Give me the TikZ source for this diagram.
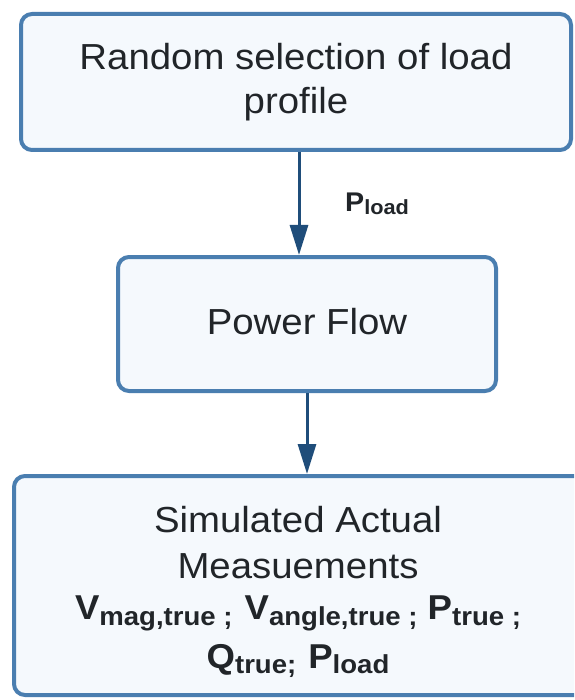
\documentclass[tikz,border=0pt]{standalone}
\usepackage{fontspec}
\setmainfont[FakeStretch=1.06]{Liberation Sans}
\usetikzlibrary{arrows.meta}
\definecolor{bord}{RGB}{74,126,176}
\definecolor{fillc}{RGB}{245,249,253}
\definecolor{arrc}{RGB}{31,77,122}
\definecolor{txt}{RGB}{33,37,41}
\newcommand{\bigtxt}{\fontsize{36.2}{44}\selectfont}
\newcommand{\fsub}[3]{\raisebox{-#2}{\fontsize{#1}{#1}\selectfont #3}}
\begin{document}
\begin{tikzpicture}[x=1pt,y=-1pt,
  box/.style={draw=bord, line width=4pt, fill=fillc, rounded corners=11pt, inner sep=0pt, text=txt, align=center},
  arr/.style={draw=arrc, line width=3pt, -{Triangle[width=18pt,length=30pt]}},
  lbl/.style={text=txt, inner sep=0pt, anchor=base}]
\fill[white] (0,0) rectangle (574,700);
\useasboundingbox (0,0) rectangle (574,700);
\clip (0,0) rectangle (574,700);
\node[box, minimum width=550pt, minimum height=136pt, font=\bigtxt] (sel) at (296,82) {Random selection of load\\profile};
\node[box, minimum width=378pt, minimum height=134pt, font=\bigtxt] (pf) at (307,324) {\raisebox{5pt}{Power Flow}};
\node[box, minimum width=590pt, minimum height=219pt] (meas) at (309,585.5) {};
\node[lbl, font=\bigtxt] (m1) at (298,532) {Simulated Actual};
\node[lbl, font=\bigtxt] (m2) at (298,578) {Measuements};
\node[lbl] (m3) at (298,619) {\bfseries\fontsize{34.5}{34}\selectfont V\fsub{26}{6pt}{mag,true ;}\hspace{12pt}V\fsub{26}{6pt}{angle,true ;} P\fsub{26}{6pt}{true ;}};
\node[lbl] (m4) at (298,668) {\bfseries\fontsize{34.5}{34}\selectfont Q\fsub{26}{5pt}{true;}\hspace{12pt}P\fsub{26}{5pt}{load}};
\coordinate (a1) at ([xshift=3pt]sel.south);
\draw[arr] (a1) -- (a1 |- pf.north);
\draw[arr] (pf.south) -- (pf.south |- meas.north);
\node[lbl, anchor=base west] (plabel) at (345,212) {\bfseries\fontsize{27}{27}\selectfont P\fsub{20.5}{3pt}{load}};
\end{tikzpicture}
\end{document}
